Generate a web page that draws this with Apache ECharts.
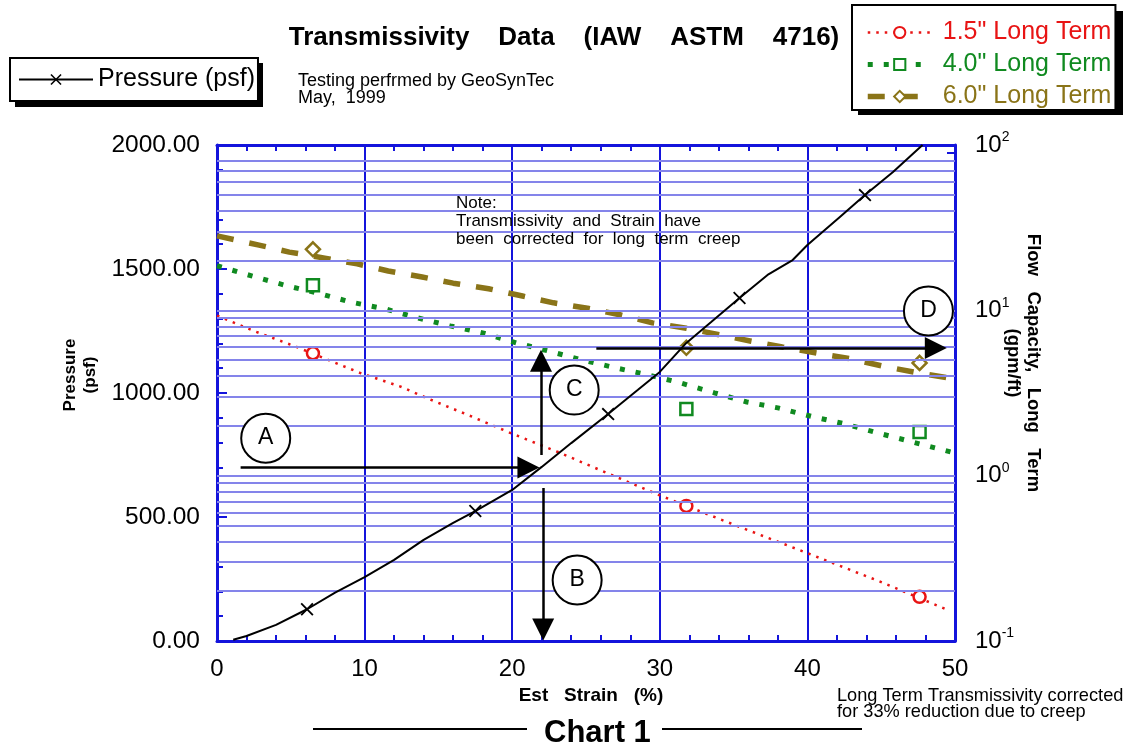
<!DOCTYPE html>
<html>
<head>
<meta charset="utf-8">
<script src="https://cdn.jsdelivr.net/npm/echarts@6/dist/echarts.min.js"></script>
<style>
html, body { margin: 0; background: #fff; }
#chart { width: 1128px; height: 744px; }
</style>
</head>
<body>
<div id="chart"></div>
<script>
// strain (%) vs pressure (psf), left axis
var pressureLine = [[1.1,5],[2,20],[4,65],[6.1,128],[8,195],[10,258],[12,327],[14,408],[16,476],[17.5,524],[20,609],[22,702],[24,798],[26.5,915],[28.5,1012],[30,1085],[31.8,1202],[33.5,1287],[35.4,1383],[37.3,1476],[39,1536],[40,1597],[42.2,1710],[43.9,1798],[45.8,1891],[47.8,2000]];
var pressureMarks = [[6.1,128],[17.5,524],[26.5,915],[35.4,1383],[43.9,1798]];

// flow capacity (gpm/ft), right log axis
var t15Line = [[0,9.3],[2.5,7.5],[5.2,6.1],[9.7,4.18],[12.5,3.44],[14.2,2.95],[17.3,2.27],[19.9,1.81],[23.1,1.39],[26.4,1.04],[30,0.76],[35.4,0.49],[40,0.34],[44.7,0.233],[49.3,0.157]];
var t15Marks = [[6.5,5.5],[31.8,0.656],[47.6,0.185]];
var t40Line = [[0,18.6],[2.4,16.1],[4.7,14.1],[7,12.6],[9.1,11.2],[11.4,10.2],[13.6,9.0],[15.8,8.05],[18,7.3],[20.3,6.35],[22.4,5.69],[24.7,5.02],[27,4.49],[29.2,4.07],[31.4,3.64],[33.7,3.17],[35.9,2.79],[38,2.57],[40.4,2.27],[42.5,2.06],[44.8,1.81],[47.1,1.6],[50,1.37]];
var t40Marks = [[6.5,14.2],[31.8,2.53],[47.6,1.84]];
var t60Line = [[0,28.2],[2.85,24.8],[4.9,22.5],[7.3,20.7],[9.5,19.1],[11.6,17.3],[13.9,15.9],[16,14.6],[18.4,13.5],[20.7,12.2],[22.8,11.1],[25.1,10.3],[27.3,9.4],[29.5,8.4],[31.8,7.8],[34.1,7.1],[36.2,6.5],[38.3,6.0],[40.7,5.5],[42.9,5.1],[45.1,4.6],[47.4,4.2],[50,3.85]];
var t60Marks = [[6.5,23.4],[31.8,5.93],[47.6,4.81]];

// log grid and tick values on the right axis
var logGrid = [0.2,0.3,0.4,0.5,0.6,0.7,0.8,0.9,1,2,3,4,5,6,7,8,9,10,20,30,40,50,60,70,80];
var logTicks = [0.1,0.2,0.3,0.4,0.5,0.6,0.7,0.8,0.9,1,2,3,4,5,6,7,8,9,10,20,30,40,50,60,70,80,90,100];

// annotation bubbles (strain, psf) and arrows (start, end)
var bubbles = [['A',3.3,818],['B',24.4,246],['C',24.2,1012],['D',48.2,1331]];
var arrows = [[[1.6,700],[21.1,700]],[[22.1,617],[22.1,46]],[[21.95,750],[21.95,1130]],[[25.7,1181],[48.7,1181]]];

var BLUE = '#1414dc';
var LIGHT = '#8484ea';
var RED = '#e81414';
var GREEN = '#108a20';
var OLIVE = '#8a7418';
var FONT = '"Liberation Sans", Arial, sans-serif';
var XMARK = 'path://M0,1L1,0L5,4L9,0L10,1L6,5L10,9L9,10L5,6L1,10L0,9L4,5Z';

var chart = echarts.init(document.getElementById('chart'));

function markStyle(c) {
    return { color: '#fff', borderColor: c, borderWidth: 2.5, opacity: 1 };
}

var option = {
    animation: false,
    textStyle: { fontFamily: FONT, color: '#000' },
    title: [
        { text: 'Transmissivity    Data    (IAW    ASTM    4716)', left: 'center', top: 20,
          textStyle: { fontSize: 26, fontWeight: 'bold', color: '#000', fontFamily: FONT } },
        { text: 'Testing perfrmed by GeoSynTec\nMay,  1999', left: 293, top: 68,
          textStyle: { fontSize: 18, fontWeight: 'normal', color: '#000', lineHeight: 17, fontFamily: FONT } },
        { text: 'Note:\nTransmissivity  and  Strain  have\nbeen  corrected  for  long  term  creep', left: 451, top: 189,
          textStyle: { fontSize: 17, fontWeight: 'normal', color: '#000', lineHeight: 18, fontFamily: FONT } },
        { text: 'Long Term Transmissivity corrected\nfor 33% reduction due to creep', left: 832, top: 683,
          textStyle: { fontSize: 18.2, fontWeight: 'normal', color: '#000', lineHeight: 16, fontFamily: FONT } },
        { text: 'Chart 1', left: 539, top: 713,
          textStyle: { fontSize: 31, fontWeight: 'bold', color: '#000', fontFamily: FONT } }
    ],
    legend: [
        { data: [{ name: 'Pressure (psf)', lineStyle: { width: 2 } }],
          left: 10, top: 58, padding: [9, 3, 9, 8], z: 10,
          itemWidth: 74, itemHeight: 14,
          backgroundColor: '#fff', borderColor: '#000', borderWidth: 2,
          textStyle: { fontSize: 25, color: '#000', fontFamily: FONT } },
        { data: [
            { name: '1.5" Long Term', textStyle: { color: RED }, lineStyle: { width: 2.5, type: [2.5, 6] } },
            { name: '4.0" Long Term', textStyle: { color: GREEN }, lineStyle: { width: 5, type: [5, 11] } },
            { name: '6.0" Long Term', textStyle: { color: OLIVE }, lineStyle: { width: 5.5, type: [17, 16] } }
          ],
          orient: 'vertical', left: 852, top: 5, padding: [15, 4, 1, 13], z: 10,
          itemWidth: 64, itemHeight: 14, itemGap: 7,
          backgroundColor: '#fff', borderColor: '#000', borderWidth: 2,
          textStyle: { fontSize: 25, fontFamily: FONT, padding: [0, 0, 0, 6] } }
    ],
    grid: { left: 217, right: 173, top: 145, bottom: 103 },
    xAxis: [
        { type: 'value', min: 0, max: 50, interval: 10, position: 'bottom',
          name: 'Est   Strain   (%)', nameLocation: 'middle', nameGap: 42,
          nameTextStyle: { fontSize: 19, fontWeight: 'bold', color: '#000', padding: [0, 0, 0, 10] },
          axisLine: { onZero: false, lineStyle: { color: BLUE, width: 3 } },
          axisTick: { inside: true, length: 6, lineStyle: { color: BLUE, width: 2 } },
          minorTick: { show: true, splitNumber: 5, length: 6, lineStyle: { color: BLUE, width: 2 } },
          splitLine: { show: true, lineStyle: { color: BLUE, width: 2 } },
          axisLabel: { fontSize: 24, color: '#000', margin: 16 } },
        { type: 'value', min: 0, max: 50, interval: 10, position: 'top',
          axisLine: { onZero: false, lineStyle: { color: BLUE, width: 3 } },
          axisTick: { inside: true, length: 6, lineStyle: { color: BLUE, width: 2 } },
          minorTick: { show: true, splitNumber: 5, length: 6, lineStyle: { color: BLUE, width: 2 } },
          splitLine: { show: false }, axisLabel: { show: false } }
    ],
    yAxis: [
        { type: 'value', min: 0, max: 2000, interval: 500, position: 'left',
          name: 'Pressure\n(psf)', nameLocation: 'middle', nameGap: 110, nameRotate: 90,
          nameTextStyle: { fontSize: 17, fontWeight: 'bold', color: '#000', lineHeight: 20, padding: [0, 0, 0, 36] },
          axisLine: { onZero: false, lineStyle: { color: BLUE, width: 3 } },
          axisTick: { inside: true, length: 10, lineStyle: { color: BLUE, width: 2 } },
          minorTick: { show: true, splitNumber: 5, length: 6, lineStyle: { color: BLUE, width: 2 } },
          splitLine: { show: false },
          axisLabel: { fontSize: 24.5, color: '#000', margin: 17,
                       formatter: function (v) { return v.toFixed(2); } } },
        { type: 'log', logBase: 10, min: 0.1, max: 100, position: 'right',
          name: 'Flow   Capacity,   Long   Term\n(gpm/ft)', nameLocation: 'middle', nameGap: 48, nameRotate: -90,
          nameMoveOverlap: false,
          nameTextStyle: { fontSize: 18.5, fontWeight: 'bold', color: '#000', lineHeight: 20, padding: [0, 60, 0, 0] },
          axisLine: { onZero: false, lineStyle: { color: BLUE, width: 3 } },
          axisTick: { inside: true, length: 8, customValues: logTicks, lineStyle: { color: BLUE, width: 2 } },
          splitLine: { show: false },
          axisLabel: { color: '#000', margin: 20,
                       formatter: function (v) {
                           var e = Math.round(Math.log(v) / Math.LN10);
                           return '{b|10}{s|' + e + '}';
                       },
                       rich: { b: { fontSize: 24, fontFamily: FONT },
                               s: { fontSize: 14, fontFamily: FONT, padding: [0, 0, 15, 0] } } } }
    ],
    series: [
        { name: 'grid', type: 'line', yAxisIndex: 1, data: [], z: 1, silent: true,
          markLine: { silent: true, symbol: ['none', 'none'], label: { show: false },
                      lineStyle: { color: LIGHT, width: 2, type: 'solid' },
                      data: logGrid.map(function (v) { return { yAxis: v }; }) } },

        { name: '1.5" Long Term', type: 'line', yAxisIndex: 1, data: t15Line, z: 3,
          symbol: 'circle', symbolSize: 11, showSymbol: false,
          itemStyle: markStyle(RED),
          lineStyle: { color: RED, width: 2.5, type: [2.5, 6] } },
        { name: '1.5" Long Term', type: 'scatter', yAxisIndex: 1, data: t15Marks, z: 4,
          symbol: 'circle', symbolSize: 12, itemStyle: markStyle(RED) },

        { name: '4.0" Long Term', type: 'line', yAxisIndex: 1, data: t40Line, z: 3,
          symbol: 'rect', symbolSize: 11, showSymbol: false,
          itemStyle: markStyle(GREEN),
          lineStyle: { color: GREEN, width: 5, type: [5, 11] } },
        { name: '4.0" Long Term', type: 'scatter', yAxisIndex: 1, data: t40Marks, z: 4,
          symbol: 'rect', symbolSize: 12, itemStyle: markStyle(GREEN) },

        { name: '6.0" Long Term', type: 'line', yAxisIndex: 1, data: t60Line, z: 3,
          symbol: 'diamond', symbolSize: 13, showSymbol: false,
          itemStyle: markStyle(OLIVE),
          lineStyle: { color: OLIVE, width: 5.5, type: [17, 16] } },
        { name: '6.0" Long Term', type: 'scatter', yAxisIndex: 1, data: t60Marks, z: 4,
          symbol: 'diamond', symbolSize: 14, itemStyle: markStyle(OLIVE) },

        { name: 'Pressure (psf)', type: 'line', yAxisIndex: 0, data: pressureLine, z: 5,
          symbol: XMARK, symbolSize: 12, showSymbol: false,
          itemStyle: { color: '#000' },
          lineStyle: { color: '#000', width: 2 } },
        { name: 'Pressure (psf)', type: 'scatter', yAxisIndex: 0, data: pressureMarks, z: 6,
          symbol: XMARK, symbolSize: 13, itemStyle: { color: '#000', opacity: 1 } },

        { name: 'arrows', type: 'line', yAxisIndex: 0, data: [], z: 7, silent: true,
          itemStyle: { color: '#000' },
          markLine: { silent: true, symbol: ['none', 'triangle'], symbolSize: 22,
                      label: { show: false },
                      itemStyle: { color: '#000' },
                      lineStyle: { color: '#000', width: 2.5, type: 'solid' },
                      data: arrows.map(function (a) {
                          return [{ coord: a[0] }, { coord: a[1] }];
                      }) } },

        { name: 'notes', type: 'scatter', yAxisIndex: 0, z: 8, silent: true,
          data: bubbles.map(function (b) { return { name: b[0], value: [b[1], b[2]] }; }),
          symbol: 'circle', symbolSize: 49,
          itemStyle: { color: '#fff', borderColor: '#000', borderWidth: 2, opacity: 1 },
          label: { show: true, position: 'inside', formatter: '{b}', fontSize: 23, color: '#000' } }
    ],
    graphic: [
        { type: 'rect', z: 0, shape: { x: 15, y: 63, width: 248, height: 44 }, style: { fill: '#000' } },
        { type: 'rect', z: 0, shape: { x: 858, y: 11, width: 265, height: 104 }, style: { fill: '#000' } },
        { type: 'line', shape: { x1: 313, y1: 729, x2: 527, y2: 729 }, style: { stroke: '#000', lineWidth: 2 } },
        { type: 'line', shape: { x1: 662, y1: 729, x2: 862, y2: 729 }, style: { stroke: '#000', lineWidth: 2 } }
    ]
};

chart.setOption(option);
</script>
</body>
</html>
